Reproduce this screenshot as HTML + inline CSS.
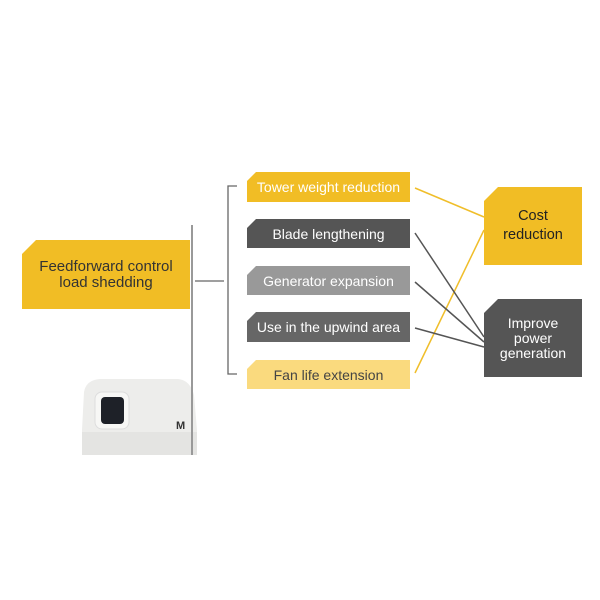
<!DOCTYPE html>
<html><head><style>
body{margin:0;width:600px;height:600px;background:#fff;position:relative;overflow:hidden;font-family:"Liberation Sans",sans-serif}
.b{position:absolute;display:flex;align-items:center;justify-content:center;text-align:center;color:#fff;font-size:14px;line-height:16px}
.n{clip-path:polygon(9px 0,100% 0,100% 100%,0 100%,0 9px)}
.n2{clip-path:polygon(14px 0,100% 0,100% 100%,0 100%,0 14px)}
</style></head><body>
<svg width="600" height="600" style="position:absolute;left:0;top:0">
<path d="M84 392 Q86 380 100 379 L178 379 Q190 380 194 395 L197 430 L196 455 L82 455 L82 430 Z" fill="#ededeb"/>
<rect x="82" y="432" width="115" height="23" fill="#e4e4e2"/>
<rect x="95" y="392" width="34" height="37" rx="7" fill="#f7f7f5" stroke="#ddd"/>
<rect x="101" y="397" width="23" height="27" rx="4" fill="#1e2128"/>
<text x="176" y="429" font-size="11" font-weight="bold" fill="#333" font-family="Liberation Sans">M</text>
<line x1="192" y1="225" x2="192" y2="455" stroke="#999" stroke-width="2"/>
<path d="M237 186 L228 186 L228 374 L237 374" fill="none" stroke="#666" stroke-width="1.3"/>
<line x1="195" y1="281" x2="224" y2="281" stroke="#666" stroke-width="1.3"/>
<line x1="415" y1="188" x2="484" y2="217" stroke="#f0be2a" stroke-width="1.5"/>
<line x1="415" y1="373" x2="484" y2="230" stroke="#f0be2a" stroke-width="1.5"/>
<line x1="415" y1="233" x2="484" y2="337" stroke="#555" stroke-width="1.5"/>
<line x1="415" y1="282" x2="484" y2="342" stroke="#555" stroke-width="1.5"/>
<line x1="415" y1="328" x2="484" y2="347" stroke="#555" stroke-width="1.5"/>
</svg>
<div class="b n2" style="left:22px;top:240px;width:168px;height:69px;background:#f1bd25;color:#333;font-size:15px;line-height:16px">Feedforward control<br>load shedding</div>
<div class="b n" style="left:247px;top:172px;width:163px;height:30px;background:#f1bd25">Tower weight reduction</div>
<div class="b n" style="left:247px;top:219px;width:163px;height:29px;background:#555">Blade lengthening</div>
<div class="b n" style="left:247px;top:266px;width:163px;height:29px;background:#999">Generator expansion</div>
<div class="b n" style="left:247px;top:312px;width:163px;height:30px;background:#666">Use in the upwind area</div>
<div class="b n" style="left:247px;top:360px;width:163px;height:29px;background:#fada7e;color:#444">Fan life extension</div>
<div class="b n2" style="left:484px;top:187px;width:98px;height:78px;background:#f1bd25;color:#222;font-size:14.5px;line-height:19px">Cost<br>reduction</div>
<div class="b n2" style="left:484px;top:299px;width:98px;height:78px;background:#555;font-size:14px;line-height:15px">Improve<br>power<br>generation</div>
</body></html>
